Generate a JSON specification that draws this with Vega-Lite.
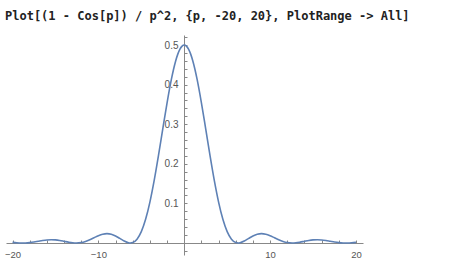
{
  "$schema": "https://vega.github.io/schema/vega-lite/v6.json",
  "autosize": "none",
  "width": 357,
  "height": 220,
  "padding": {"left": 6, "top": 35, "right": 94, "bottom": 12},
  "background": "white",
  "config": {"view": {"stroke": null}},
  "title": {
    "text": "Plot[(1 - Cos[p]) / p^2, {p, -20, 20}, PlotRange -> All]",
    "anchor": "start",
    "frame": "group",
    "font": "DejaVu Sans Mono",
    "fontSize": 12,
    "fontWeight": "bold",
    "color": "#222222",
    "baseline": "alphabetic",
    "offset": 0,
    "dx": -1
  },
  "data": {
    "values": [
      {"p": -20, "f": 0.00148}, {"p": -19.5, "f": 0.000537}, {"p": -19, "f": 0.0000313},
      {"p": -18.85, "f": 0}, {"p": -18.5, "f": 0.000177}, {"p": -18, "f": 0.001048},
      {"p": -17.5, "f": 0.002549}, {"p": -17, "f": 0.004412}, {"p": -16.5, "f": 0.006253},
      {"p": -16, "f": 0.007647}, {"p": -15.5, "f": 0.008261}, {"p": -15, "f": 0.007821},
      {"p": -14.5, "f": 0.006444}, {"p": -14, "f": 0.004404}, {"p": -13.5, "f": 0.002238},
      {"p": -13, "f": 0.000548}, {"p": -12.57, "f": 0}, {"p": -12, "f": 0.001084},
      {"p": -11.5, "f": 0.003932}, {"p": -11, "f": 0.008228}, {"p": -10.5, "f": 0.013383},
      {"p": -10, "f": 0.018391}, {"p": -9.5, "f": 0.022129}, {"p": -9, "f": 0.023594},
      {"p": -8.5, "f": 0.022173}, {"p": -8, "f": 0.017898}, {"p": -7.5, "f": 0.011615},
      {"p": -7, "f": 0.005022}, {"p": -6.5, "f": 0.000554}, {"p": -6.283, "f": 0},
      {"p": -6, "f": 0.001106}, {"p": -5.5, "f": 0.009631}, {"p": -5, "f": 0.028654},
      {"p": -4.5, "f": 0.059792}, {"p": -4, "f": 0.103353}, {"p": -3.5, "f": 0.158078},
      {"p": -3, "f": 0.22111}, {"p": -2.5, "f": 0.288183}, {"p": -2, "f": 0.354037},
      {"p": -1.5, "f": 0.413006}, {"p": -1.25, "f": 0.438194}, {"p": -1, "f": 0.459698},
      {"p": -0.75, "f": 0.477}, {"p": -0.5, "f": 0.489668}, {"p": -0.25, "f": 0.497404},
      {"p": 0, "f": 0.5},
      {"p": 0.25, "f": 0.497404}, {"p": 0.5, "f": 0.489668}, {"p": 0.75, "f": 0.477},
      {"p": 1, "f": 0.459698}, {"p": 1.25, "f": 0.438194}, {"p": 1.5, "f": 0.413006},
      {"p": 2, "f": 0.354037}, {"p": 2.5, "f": 0.288183}, {"p": 3, "f": 0.22111},
      {"p": 3.5, "f": 0.158078}, {"p": 4, "f": 0.103353}, {"p": 4.5, "f": 0.059792},
      {"p": 5, "f": 0.028654}, {"p": 5.5, "f": 0.009631}, {"p": 6, "f": 0.001106},
      {"p": 6.283, "f": 0}, {"p": 6.5, "f": 0.000554}, {"p": 7, "f": 0.005022},
      {"p": 7.5, "f": 0.011615}, {"p": 8, "f": 0.017898}, {"p": 8.5, "f": 0.022173},
      {"p": 9, "f": 0.023594}, {"p": 9.5, "f": 0.022129}, {"p": 10, "f": 0.018391},
      {"p": 10.5, "f": 0.013383}, {"p": 11, "f": 0.008228}, {"p": 11.5, "f": 0.003932},
      {"p": 12, "f": 0.001084}, {"p": 12.57, "f": 0}, {"p": 13, "f": 0.000548},
      {"p": 13.5, "f": 0.002238}, {"p": 14, "f": 0.004404}, {"p": 14.5, "f": 0.006444},
      {"p": 15, "f": 0.007821}, {"p": 15.5, "f": 0.008261}, {"p": 16, "f": 0.007647},
      {"p": 16.5, "f": 0.006253}, {"p": 17, "f": 0.004412}, {"p": 17.5, "f": 0.002549},
      {"p": 18, "f": 0.001048}, {"p": 18.5, "f": 0.000177}, {"p": 18.85, "f": 0},
      {"p": 19, "f": 0.0000313}, {"p": 19.5, "f": 0.000537}, {"p": 20, "f": 0.00148}
    ]
  },
  "mark": {"type": "line", "color": "#5e81b5", "strokeWidth": 1.6, "interpolate": "monotone"},
  "encoding": {
    "x": {
      "field": "p", "type": "quantitative",
      "scale": {"domain": [-20.76, 20.82], "nice": false, "zero": false},
      "axis": {
        "title": null, "orient": "bottom", "offset": -12, "grid": false,
        "values": [-20,-18,-16,-14,-12,-10,-8,-6,-4,-2,2,4,6,8,10,12,14,16,18,20],
        "labelExpr": "abs(datum.value) % 10 === 0 ? replace(format(datum.value, 'd'), '-', '\u2212') : ''",
        "labelOverlap": false, "labelFlush": false,
        "tickSize": -3, "tickColor": "#888888", "domainColor": "#888888",
        "labelPadding": 9, "labelFont": "Liberation Sans", "labelFontSize": 9.5,
        "labelColor": "#555555"
      }
    },
    "y": {
      "field": "f", "type": "quantitative",
      "scale": {"domain": [-0.0303, 0.5253], "nice": false, "zero": false},
      "axis": {
        "title": null, "orient": "left", "offset": -178, "grid": false,
        "values": [-0.02,0.02,0.04,0.06,0.08,0.1,0.12,0.14,0.16,0.18,0.2,0.22,0.24,0.26,0.28,0.3,0.32,0.34,0.36,0.38,0.4,0.42,0.44,0.46,0.48,0.5,0.52],
        "labelExpr": "abs(datum.value * 10 - round(datum.value * 10)) < 0.001 && datum.value > 0 ? format(datum.value, '.1f') : ''",
        "labelOverlap": false, "labelFlush": false,
        "tickSize": -3, "tickColor": "#888888", "domainColor": "#888888",
        "labelPadding": 9, "labelFont": "Liberation Sans", "labelFontSize": 10,
        "labelColor": "#555555",
        "encode": {"labels": {"update": {"dx": {"value": -3}}}}
      }
    }
  }
}
